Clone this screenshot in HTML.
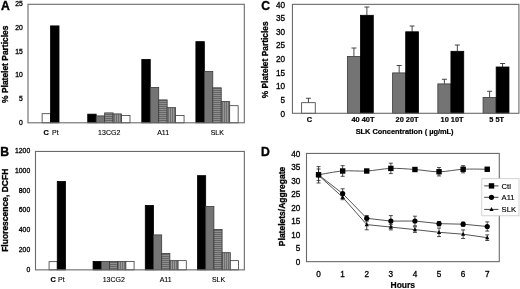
<!DOCTYPE html>
<html><head><meta charset="utf-8"><style>
html,body{margin:0;padding:0;background:#fff;}
svg{display:block;will-change:transform;filter:blur(0.4px);font-family:"Liberation Sans", sans-serif;}
</style></head><body>
<svg width="520" height="289" viewBox="0 0 520 289" font-family='"Liberation Sans", sans-serif' fill="#000">
<defs>
<pattern id="hs" patternUnits="userSpaceOnUse" width="4" height="2"><rect width="4" height="2" fill="#8e8e8e"/><rect width="4" height="1" fill="#666666"/></pattern>
<pattern id="vs" patternUnits="userSpaceOnUse" width="2" height="4"><rect width="2" height="4" fill="#969696"/><rect width="1" height="4" fill="#707070"/></pattern>
</defs>
<rect width="520" height="289" fill="#fff"/>
<text x="22.80" y="124.80" font-size="6.8" text-anchor="end" stroke="#000" stroke-width="0.3">0</text>
<text x="22.80" y="101.10" font-size="6.8" text-anchor="end" stroke="#000" stroke-width="0.3">5</text>
<text x="22.80" y="77.40" font-size="6.8" text-anchor="end" stroke="#000" stroke-width="0.3">10</text>
<text x="22.80" y="53.70" font-size="6.8" text-anchor="end" stroke="#000" stroke-width="0.3">15</text>
<text x="22.80" y="30.00" font-size="6.8" text-anchor="end" stroke="#000" stroke-width="0.3">20</text>
<text x="22.80" y="6.30" font-size="6.8" text-anchor="end" stroke="#000" stroke-width="0.3">25</text>
<rect x="42.11" y="113.70" width="8.45" height="9.10" fill="#fff" stroke="#3a3a3a" stroke-width="0.8"/>
<rect x="50.56" y="25.90" width="8.45" height="96.90" fill="#000" stroke="#000" stroke-width="0.8"/>
<rect x="87.74" y="114.15" width="8.45" height="8.65" fill="#000" stroke="#000" stroke-width="0.8"/>
<rect x="96.19" y="115.90" width="8.45" height="6.90" fill="#747474" stroke="#3a3a3a" stroke-width="0.8"/>
<rect x="104.64" y="112.90" width="8.45" height="9.90" fill="url(#hs)" stroke="#3a3a3a" stroke-width="0.8"/>
<rect x="113.09" y="113.90" width="8.45" height="8.90" fill="url(#vs)" stroke="#3a3a3a" stroke-width="0.8"/>
<rect x="121.54" y="115.40" width="8.45" height="7.40" fill="#fff" stroke="#3a3a3a" stroke-width="0.8"/>
<rect x="141.81" y="59.40" width="8.45" height="63.40" fill="#000" stroke="#000" stroke-width="0.8"/>
<rect x="150.26" y="87.40" width="8.45" height="35.40" fill="#747474" stroke="#3a3a3a" stroke-width="0.8"/>
<rect x="158.71" y="99.90" width="8.45" height="22.90" fill="url(#hs)" stroke="#3a3a3a" stroke-width="0.8"/>
<rect x="167.16" y="107.65" width="8.45" height="15.15" fill="url(#vs)" stroke="#3a3a3a" stroke-width="0.8"/>
<rect x="175.61" y="115.40" width="8.45" height="7.40" fill="#fff" stroke="#3a3a3a" stroke-width="0.8"/>
<rect x="195.89" y="41.65" width="8.45" height="81.15" fill="#000" stroke="#000" stroke-width="0.8"/>
<rect x="204.34" y="71.40" width="8.45" height="51.40" fill="#747474" stroke="#3a3a3a" stroke-width="0.8"/>
<rect x="212.79" y="87.80" width="8.45" height="35.00" fill="url(#hs)" stroke="#3a3a3a" stroke-width="0.8"/>
<rect x="221.24" y="101.60" width="8.45" height="21.20" fill="url(#vs)" stroke="#3a3a3a" stroke-width="0.8"/>
<rect x="229.69" y="105.70" width="8.45" height="17.10" fill="#fff" stroke="#3a3a3a" stroke-width="0.8"/>
<rect x="28.0" y="4.3" width="216.30" height="118.50" fill="none" stroke="#6a6a6a" stroke-width="1.1"/>
<text x="43.60" y="135.00" font-size="7.4" text-anchor="start" font-weight="bold" stroke="#000" stroke-width="0.2">C</text>
<text x="52.00" y="135.00" font-size="7.0" text-anchor="start" stroke="#000" stroke-width="0.12">Pt</text>
<text x="109.20" y="135.20" font-size="7.0" text-anchor="middle" stroke="#000" stroke-width="0.12">13CG2</text>
<text x="163.10" y="135.20" font-size="7.0" text-anchor="middle" stroke="#000" stroke-width="0.12">A11</text>
<text x="217.30" y="135.20" font-size="7.0" text-anchor="middle" stroke="#000" stroke-width="0.12">SLK</text>
<text x="0.9" y="9.7" font-size="12.2" font-weight="bold" stroke="#000" stroke-width="0.35">A</text>
<text transform="translate(8.3,64.25) rotate(-90)" font-size="8.45" font-weight="bold" stroke="#000" stroke-width="0.3" text-anchor="middle">% Platelet Particles</text>
<text x="30.20" y="271.65" font-size="6.8" text-anchor="end" stroke="#000" stroke-width="0.3">0</text>
<text x="30.20" y="251.92" font-size="6.8" text-anchor="end" stroke="#000" stroke-width="0.3">200</text>
<text x="30.20" y="232.18" font-size="6.8" text-anchor="end" stroke="#000" stroke-width="0.3">400</text>
<text x="30.20" y="212.45" font-size="6.8" text-anchor="end" stroke="#000" stroke-width="0.3">600</text>
<text x="30.20" y="192.72" font-size="6.8" text-anchor="end" stroke="#000" stroke-width="0.3">800</text>
<text x="30.20" y="172.98" font-size="6.8" text-anchor="end" stroke="#000" stroke-width="0.3">1000</text>
<text x="30.20" y="153.25" font-size="6.8" text-anchor="end" stroke="#000" stroke-width="0.3">1200</text>
<rect x="49.06" y="261.65" width="8.20" height="8.20" fill="#fff" stroke="#3a3a3a" stroke-width="0.8"/>
<rect x="57.26" y="181.40" width="8.20" height="88.45" fill="#000" stroke="#000" stroke-width="0.8"/>
<rect x="93.07" y="261.40" width="8.20" height="8.45" fill="#000" stroke="#000" stroke-width="0.8"/>
<rect x="101.27" y="261.40" width="8.20" height="8.45" fill="#747474" stroke="#3a3a3a" stroke-width="0.8"/>
<rect x="109.47" y="261.40" width="8.20" height="8.45" fill="url(#hs)" stroke="#3a3a3a" stroke-width="0.8"/>
<rect x="117.67" y="261.40" width="8.20" height="8.45" fill="url(#vs)" stroke="#3a3a3a" stroke-width="0.8"/>
<rect x="125.87" y="261.40" width="8.20" height="8.45" fill="#fff" stroke="#3a3a3a" stroke-width="0.8"/>
<rect x="145.28" y="205.40" width="8.20" height="64.45" fill="#000" stroke="#000" stroke-width="0.8"/>
<rect x="153.48" y="234.90" width="8.20" height="34.95" fill="#747474" stroke="#3a3a3a" stroke-width="0.8"/>
<rect x="161.68" y="253.40" width="8.20" height="16.45" fill="url(#hs)" stroke="#3a3a3a" stroke-width="0.8"/>
<rect x="169.88" y="260.65" width="8.20" height="9.20" fill="url(#vs)" stroke="#3a3a3a" stroke-width="0.8"/>
<rect x="178.08" y="260.65" width="8.20" height="9.20" fill="#fff" stroke="#3a3a3a" stroke-width="0.8"/>
<rect x="197.49" y="175.65" width="8.20" height="94.20" fill="#000" stroke="#000" stroke-width="0.8"/>
<rect x="205.69" y="206.40" width="8.20" height="63.45" fill="#747474" stroke="#3a3a3a" stroke-width="0.8"/>
<rect x="213.89" y="229.40" width="8.20" height="40.45" fill="url(#hs)" stroke="#3a3a3a" stroke-width="0.8"/>
<rect x="222.09" y="252.65" width="8.20" height="17.20" fill="url(#vs)" stroke="#3a3a3a" stroke-width="0.8"/>
<rect x="230.29" y="260.65" width="8.20" height="9.20" fill="#fff" stroke="#3a3a3a" stroke-width="0.8"/>
<rect x="35.5" y="151.45" width="208.85" height="118.40" fill="none" stroke="#6a6a6a" stroke-width="1.1"/>
<text x="50.60" y="282.00" font-size="7.4" text-anchor="start" font-weight="bold" stroke="#000" stroke-width="0.2">C</text>
<text x="58.00" y="282.00" font-size="7.0" text-anchor="start" stroke="#000" stroke-width="0.12">Pt</text>
<text x="113.80" y="282.00" font-size="7.0" text-anchor="middle" stroke="#000" stroke-width="0.12">13CG2</text>
<text x="165.60" y="282.00" font-size="7.0" text-anchor="middle" stroke="#000" stroke-width="0.12">A11</text>
<text x="218.50" y="282.00" font-size="7.0" text-anchor="middle" stroke="#000" stroke-width="0.12">SLK</text>
<text x="0.3" y="155.7" font-size="12.2" font-weight="bold" stroke="#000" stroke-width="0.35">B</text>
<text transform="translate(7.8,210.3) rotate(-90)" font-size="8.5" font-weight="bold" stroke="#000" stroke-width="0.3" text-anchor="middle">Fluorescence, DCFH</text>
<text x="285.10" y="116.50" font-size="8.2" text-anchor="end" stroke="#000" stroke-width="0.3">0</text>
<text x="285.10" y="102.88" font-size="8.2" text-anchor="end" stroke="#000" stroke-width="0.3">5</text>
<text x="285.10" y="89.27" font-size="8.2" text-anchor="end" stroke="#000" stroke-width="0.3">10</text>
<text x="285.10" y="75.65" font-size="8.2" text-anchor="end" stroke="#000" stroke-width="0.3">15</text>
<text x="285.10" y="62.03" font-size="8.2" text-anchor="end" stroke="#000" stroke-width="0.3">20</text>
<text x="285.10" y="48.41" font-size="8.2" text-anchor="end" stroke="#000" stroke-width="0.3">25</text>
<text x="285.10" y="34.80" font-size="8.2" text-anchor="end" stroke="#000" stroke-width="0.3">30</text>
<text x="285.10" y="21.18" font-size="8.2" text-anchor="end" stroke="#000" stroke-width="0.3">35</text>
<text x="285.10" y="7.56" font-size="8.2" text-anchor="end" stroke="#000" stroke-width="0.3">40</text>
<path d="M308.45,102.70 V98.25 M305.95,98.25 h5" stroke="#333" stroke-width="0.9" fill="none"/>
<rect x="301.65" y="102.70" width="13.60" height="10.60" fill="#fff" stroke="#3a3a3a" stroke-width="0.8"/>
<path d="M353.93,56.40 V48.00 M351.43,48.00 h5" stroke="#333" stroke-width="0.9" fill="none"/>
<rect x="347.38" y="56.40" width="13.10" height="56.90" fill="#747474" stroke="#3a3a3a" stroke-width="0.8"/>
<path d="M366.88,15.30 V7.00 M364.38,7.00 h5" stroke="#333" stroke-width="0.9" fill="none"/>
<rect x="360.48" y="15.30" width="12.80" height="98.00" fill="#000" stroke="#000" stroke-width="0.8"/>
<path d="M399.16,72.90 V65.50 M396.66,65.50 h5" stroke="#333" stroke-width="0.9" fill="none"/>
<rect x="392.61" y="72.90" width="13.10" height="40.40" fill="#747474" stroke="#3a3a3a" stroke-width="0.8"/>
<path d="M412.11,31.80 V26.00 M409.61,26.00 h5" stroke="#333" stroke-width="0.9" fill="none"/>
<rect x="405.71" y="31.80" width="12.80" height="81.50" fill="#000" stroke="#000" stroke-width="0.8"/>
<path d="M444.39,83.90 V79.25 M441.89,79.25 h5" stroke="#333" stroke-width="0.9" fill="none"/>
<rect x="437.84" y="83.90" width="13.10" height="29.40" fill="#747474" stroke="#3a3a3a" stroke-width="0.8"/>
<path d="M457.34,51.30 V45.00 M454.84,45.00 h5" stroke="#333" stroke-width="0.9" fill="none"/>
<rect x="450.94" y="51.30" width="12.80" height="62.00" fill="#000" stroke="#000" stroke-width="0.8"/>
<path d="M489.62,97.40 V91.25 M487.12,91.25 h5" stroke="#333" stroke-width="0.9" fill="none"/>
<rect x="483.07" y="97.40" width="13.10" height="15.90" fill="#747474" stroke="#3a3a3a" stroke-width="0.8"/>
<path d="M502.57,67.00 V63.50 M500.07,63.50 h5" stroke="#333" stroke-width="0.9" fill="none"/>
<rect x="496.17" y="67.00" width="12.80" height="46.30" fill="#000" stroke="#000" stroke-width="0.8"/>
<rect x="292.45" y="4.36" width="226.45" height="108.94" fill="none" stroke="#6a6a6a" stroke-width="1.1"/>
<text x="309.40" y="122.00" font-size="7.4" text-anchor="middle" font-weight="bold" stroke="#000" stroke-width="0.2">C</text>
<text x="362.90" y="122.00" font-size="7.4" text-anchor="middle" font-weight="bold" stroke="#000" stroke-width="0.2">40 40T</text>
<text x="407.10" y="122.00" font-size="7.4" text-anchor="middle" font-weight="bold" stroke="#000" stroke-width="0.2">20 20T</text>
<text x="452.10" y="122.00" font-size="7.4" text-anchor="middle" font-weight="bold" stroke="#000" stroke-width="0.2">10 10T</text>
<text x="496.70" y="122.00" font-size="7.4" text-anchor="middle" font-weight="bold" stroke="#000" stroke-width="0.2">5 5T</text>
<text x="404.60" y="134.20" font-size="7.4" text-anchor="middle" font-weight="bold" stroke="#000" stroke-width="0.2">SLK Concentration ( µg/mL)</text>
<text x="261.3" y="9.6" font-size="12.2" font-weight="bold" stroke="#000" stroke-width="0.35">C</text>
<text transform="translate(268.4,59.85) rotate(-90)" font-size="8.4" font-weight="bold" stroke="#000" stroke-width="0.3" text-anchor="middle">% Platelet Particles</text>
<text x="300.40" y="264.84" font-size="8.2" text-anchor="end" stroke="#000" stroke-width="0.3">0</text>
<text x="300.40" y="251.31" font-size="8.2" text-anchor="end" stroke="#000" stroke-width="0.3">5</text>
<text x="300.40" y="237.79" font-size="8.2" text-anchor="end" stroke="#000" stroke-width="0.3">10</text>
<text x="300.40" y="224.26" font-size="8.2" text-anchor="end" stroke="#000" stroke-width="0.3">15</text>
<text x="300.40" y="210.73" font-size="8.2" text-anchor="end" stroke="#000" stroke-width="0.3">20</text>
<text x="300.40" y="197.21" font-size="8.2" text-anchor="end" stroke="#000" stroke-width="0.3">25</text>
<text x="300.40" y="183.68" font-size="8.2" text-anchor="end" stroke="#000" stroke-width="0.3">30</text>
<text x="300.40" y="170.16" font-size="8.2" text-anchor="end" stroke="#000" stroke-width="0.3">35</text>
<text x="300.40" y="156.63" font-size="8.2" text-anchor="end" stroke="#000" stroke-width="0.3">40</text>
<text x="318.55" y="276.90" font-size="8.2" text-anchor="middle" stroke="#000" stroke-width="0.3">0</text>
<text x="342.65" y="276.90" font-size="8.2" text-anchor="middle" stroke="#000" stroke-width="0.3">1</text>
<text x="366.75" y="276.90" font-size="8.2" text-anchor="middle" stroke="#000" stroke-width="0.3">2</text>
<text x="390.85" y="276.90" font-size="8.2" text-anchor="middle" stroke="#000" stroke-width="0.3">3</text>
<text x="414.94" y="276.90" font-size="8.2" text-anchor="middle" stroke="#000" stroke-width="0.3">4</text>
<text x="439.04" y="276.90" font-size="8.2" text-anchor="middle" stroke="#000" stroke-width="0.3">5</text>
<text x="463.14" y="276.90" font-size="8.2" text-anchor="middle" stroke="#000" stroke-width="0.3">6</text>
<text x="487.24" y="276.90" font-size="8.2" text-anchor="middle" stroke="#000" stroke-width="0.3">7</text>
<text x="402.80" y="288.20" font-size="8.5" text-anchor="middle" font-weight="bold" stroke="#000" stroke-width="0.2">Hours</text>
<path d="M318.55,166.60 V183.00 M316.55,166.60 h4 M316.55,183.00 h4" stroke="#222" stroke-width="0.8" fill="none"/>
<path d="M342.65,165.70 V176.30 M340.65,165.70 h4 M340.65,176.30 h4" stroke="#222" stroke-width="0.8" fill="none"/>
<path d="M390.85,163.20 V173.60 M388.85,163.20 h4 M388.85,173.60 h4" stroke="#222" stroke-width="0.8" fill="none"/>
<path d="M439.04,167.55 V175.95 M437.04,167.55 h4 M437.04,175.95 h4" stroke="#222" stroke-width="0.8" fill="none"/>
<path d="M463.14,165.65 V172.85 M461.14,165.65 h4 M461.14,172.85 h4" stroke="#222" stroke-width="0.8" fill="none"/>
<path d="M318.55,169.00 V180.60 M316.55,169.00 h4 M316.55,180.60 h4" stroke="#222" stroke-width="0.8" fill="none"/>
<path d="M342.65,188.80 V198.40 M340.65,188.80 h4 M340.65,198.40 h4" stroke="#222" stroke-width="0.8" fill="none"/>
<path d="M366.75,215.50 V221.10 M364.75,215.50 h4 M364.75,221.10 h4" stroke="#222" stroke-width="0.8" fill="none"/>
<path d="M390.85,215.60 V226.60 M388.85,215.60 h4 M388.85,226.60 h4" stroke="#222" stroke-width="0.8" fill="none"/>
<path d="M414.94,216.20 V225.80 M412.94,216.20 h4 M412.94,225.80 h4" stroke="#222" stroke-width="0.8" fill="none"/>
<path d="M439.04,221.45 V225.85 M437.04,221.45 h4 M437.04,225.85 h4" stroke="#222" stroke-width="0.8" fill="none"/>
<path d="M463.14,222.20 V226.20 M461.14,222.20 h4 M461.14,226.20 h4" stroke="#222" stroke-width="0.8" fill="none"/>
<path d="M487.24,221.90 V231.10 M485.24,221.90 h4 M485.24,231.10 h4" stroke="#222" stroke-width="0.8" fill="none"/>
<path d="M342.65,194.70 V199.70 M340.65,194.70 h4 M340.65,199.70 h4" stroke="#222" stroke-width="0.8" fill="none"/>
<path d="M366.75,219.40 V229.80 M364.75,219.40 h4 M364.75,229.80 h4" stroke="#222" stroke-width="0.8" fill="none"/>
<path d="M390.85,224.30 V229.90 M388.85,224.30 h4 M388.85,229.90 h4" stroke="#222" stroke-width="0.8" fill="none"/>
<path d="M414.94,226.80 V232.40 M412.94,226.80 h4 M412.94,232.40 h4" stroke="#222" stroke-width="0.8" fill="none"/>
<path d="M439.04,228.00 V236.60 M437.04,228.00 h4 M437.04,236.60 h4" stroke="#222" stroke-width="0.8" fill="none"/>
<path d="M463.14,229.90 V238.50 M461.14,229.90 h4 M461.14,238.50 h4" stroke="#222" stroke-width="0.8" fill="none"/>
<path d="M487.24,234.90 V240.50 M485.24,234.90 h4 M485.24,240.50 h4" stroke="#222" stroke-width="0.8" fill="none"/>
<path d="M318.55,174.80 C322.57,174.17 334.62,171.63 342.65,171.00 C350.68,170.37 358.71,171.43 366.75,171.00 C374.78,170.57 382.81,168.65 390.85,168.40 C398.88,168.15 406.91,168.94 414.94,169.50 C422.98,170.06 431.01,171.79 439.04,171.75 C447.08,171.71 455.11,169.67 463.14,169.25 C471.17,168.83 483.22,169.25 487.24,169.25" stroke="#555" stroke-width="1" fill="none"/>
<polyline points="318.55,174.80 342.65,193.60 366.75,218.30 390.85,221.10 414.94,221.00 439.04,223.65 463.14,224.20 487.24,226.50" stroke="#555" stroke-width="1" fill="none"/>
<polyline points="318.55,175.30 342.65,197.20 366.75,224.60 390.85,227.10 414.94,229.60 439.04,232.30 463.14,234.20 487.24,237.70" stroke="#555" stroke-width="1" fill="none"/>
<rect x="315.85" y="172.10" width="5.4" height="5.4" fill="#000"/>
<rect x="339.95" y="168.30" width="5.4" height="5.4" fill="#000"/>
<rect x="364.05" y="168.30" width="5.4" height="5.4" fill="#000"/>
<rect x="388.15" y="165.70" width="5.4" height="5.4" fill="#000"/>
<rect x="412.24" y="166.80" width="5.4" height="5.4" fill="#000"/>
<rect x="436.34" y="169.05" width="5.4" height="5.4" fill="#000"/>
<rect x="460.44" y="166.55" width="5.4" height="5.4" fill="#000"/>
<rect x="484.54" y="166.55" width="5.4" height="5.4" fill="#000"/>
<circle cx="318.55" cy="174.80" r="2.6" fill="#000"/>
<circle cx="342.65" cy="193.60" r="2.6" fill="#000"/>
<circle cx="366.75" cy="218.30" r="2.6" fill="#000"/>
<circle cx="390.85" cy="221.10" r="2.6" fill="#000"/>
<circle cx="414.94" cy="221.00" r="2.6" fill="#000"/>
<circle cx="439.04" cy="223.65" r="2.6" fill="#000"/>
<circle cx="463.14" cy="224.20" r="2.6" fill="#000"/>
<circle cx="487.24" cy="226.50" r="2.6" fill="#000"/>
<path d="M318.55,173.00 L320.65,176.90 L316.45,176.90 Z" fill="#000"/>
<path d="M342.65,194.90 L344.75,198.80 L340.55,198.80 Z" fill="#000"/>
<path d="M366.75,222.30 L368.85,226.20 L364.65,226.20 Z" fill="#000"/>
<path d="M390.85,224.80 L392.95,228.70 L388.75,228.70 Z" fill="#000"/>
<path d="M414.94,227.30 L417.04,231.20 L412.84,231.20 Z" fill="#000"/>
<path d="M439.04,230.00 L441.14,233.90 L436.94,233.90 Z" fill="#000"/>
<path d="M463.14,231.90 L465.24,235.80 L461.04,235.80 Z" fill="#000"/>
<path d="M487.24,235.40 L489.34,239.30 L485.14,239.30 Z" fill="#000"/>
<rect x="306.5" y="153.43" width="192.79" height="108.21" fill="none" stroke="#6a6a6a" stroke-width="1.1"/>
<rect x="481.8" y="178.7" width="37.2" height="37.1" fill="#fff" stroke="#c8c8c8" stroke-width="0.8"/>
<line x1="484.2" y1="185.9" x2="498.5" y2="185.9" stroke="#444" stroke-width="1"/>
<rect x="488.80" y="183.20" width="5.4" height="5.4" fill="#000"/>
<text x="501.60" y="188.70" font-size="7.6" text-anchor="start" stroke="#000" stroke-width="0.15">Ctl</text>
<line x1="484.2" y1="197.3" x2="498.5" y2="197.3" stroke="#444" stroke-width="1"/>
<circle cx="491.50" cy="197.30" r="2.6" fill="#000"/>
<text x="501.60" y="200.10" font-size="7.6" text-anchor="start" stroke="#000" stroke-width="0.15">A11</text>
<line x1="484.2" y1="209.4" x2="498.5" y2="209.4" stroke="#444" stroke-width="1"/>
<path d="M491.50,207.10 L493.60,211.00 L489.40,211.00 Z" fill="#000"/>
<text x="501.60" y="212.20" font-size="7.6" text-anchor="start" stroke="#000" stroke-width="0.15">SLK</text>
<text x="261.1" y="155.8" font-size="12.2" font-weight="bold" stroke="#000" stroke-width="0.35">D</text>
<text transform="translate(284.7,206.45) rotate(-90)" font-size="8.5" font-weight="bold" stroke="#000" stroke-width="0.3" text-anchor="middle">Platelets/Aggregate</text>
</svg>
</body></html>
